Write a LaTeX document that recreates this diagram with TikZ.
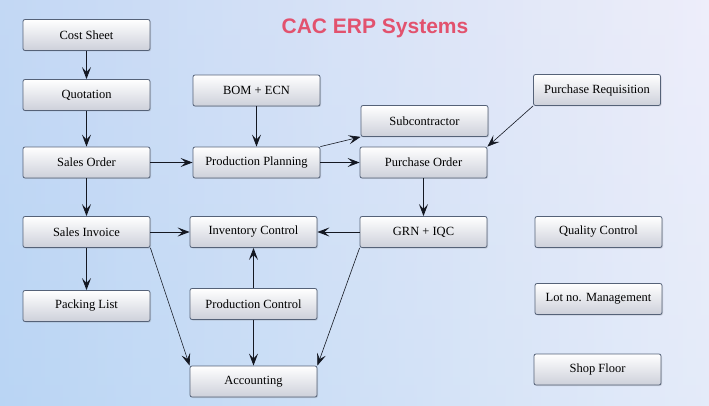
\documentclass[tikz,border=0pt]{standalone}
\usepackage{fontspec}
\setmainfont{Liberation Serif}
\newfontfamily\boxfont{Liberation Serif}
\newfontfamily\titlefont{Liberation Sans}
\usetikzlibrary{arrows.meta,shadows}
\definecolor{bgleft}{RGB}{160,198,240}
\definecolor{bgright}{RGB}{238,238,250}
\definecolor{boxedge}{RGB}{85,98,120}
\definecolor{boxbot}{RGB}{205,208,218}
\definecolor{titlecol}{RGB}{226,82,110}
\definecolor{arr}{RGB}{20,24,34}
\tikzset{
  box/.style={draw=boxedge, line width=0.8pt, rounded corners=2pt,
    top color=white, bottom color=boxbot, minimum width=127pt,
    minimum height=31pt, inner sep=0pt, font=\boxfont\fontsize{12.5}{14}\selectfont,
    drop shadow={shadow xshift=1pt, shadow yshift=-1pt, opacity=0.25}},
  conn/.style={draw=arr, line width=0.9pt,
    -{Stealth[length=12pt,width=9pt,inset=5pt]}},
  thin conn/.style={conn, line width=0.6pt}
}
\begin{document}
\begin{tikzpicture}[x=1pt,y=-1pt]
\useasboundingbox (0,0) rectangle (709,406);
\shade[left color=bgleft, right color=bgright] (0,0) rectangle (709,406);
\shade[top color=bgright, bottom color=bgleft!40!white, opacity=0.45] (0,0) rectangle (709,406);

\node[font=\titlefont\bfseries\fontsize{21}{24}\selectfont, text=titlecol] (title) at (375,28) {CAC ERP Systems};

\node[box] (cost) at (86.5,35) {Cost Sheet};
\node[box] (quot) at (86.5,95) {Quotation};
\node[box] (so) at (86.5,162.5) {Sales Order};
\node[box] (si) at (86.5,232) {Sales Invoice};
\node[box] (pl) at (86.5,306) {Packing List};
\node[box] (bom) at (256.5,90.5) {BOM + ECN};
\node[box] (pp) at (256.5,162.5) {Production Planning};
\node[box] (ic) at (253.5,232) {Inventory Control};
\node[box] (pc) at (253.5,304) {Production Control};
\node[box] (acc) at (253.5,381.5) {Accounting};
\node[box] (sub) at (424.5,121) {Subcontractor};
\node[box] (po) at (423.5,162.5) {Purchase Order};
\node[box] (grn) at (423.5,232) {GRN + IQC};
\node[box] (pr) at (597,90) {Purchase Requisition};
\node[box] (qc) at (598.5,232) {Quality Control};
\node[box] (lot) at (598.5,299) {Lot no. Management};
\node[box] (sf) at (597.5,369.5) {Shop Floor};

\draw[conn] (cost) -- (quot);
\draw[conn] (quot) -- (so);
\draw[conn] (so) -- (pp);
\draw[conn] (bom) -- (pp);
\draw[thin conn] (pp.north east) -- (sub.south west);
\draw[conn] (pp) -- (po);
\draw[thin conn] (pr.south west) -- (po.north east);
\draw[conn] (so) -- (si);
\draw[conn] (po) -- (grn);
\draw[conn] (si) -- (ic);
\draw[conn] (grn) -- (ic);
\draw[conn] (si) -- (pl);
\draw[thin conn] (si.south east) -- (acc.north west);
\draw[conn] (pc) -- (ic);
\draw[conn] (pc) -- (acc);
\draw[thin conn] (grn.south west) -- (acc.north east);
\end{tikzpicture}
\end{document}
